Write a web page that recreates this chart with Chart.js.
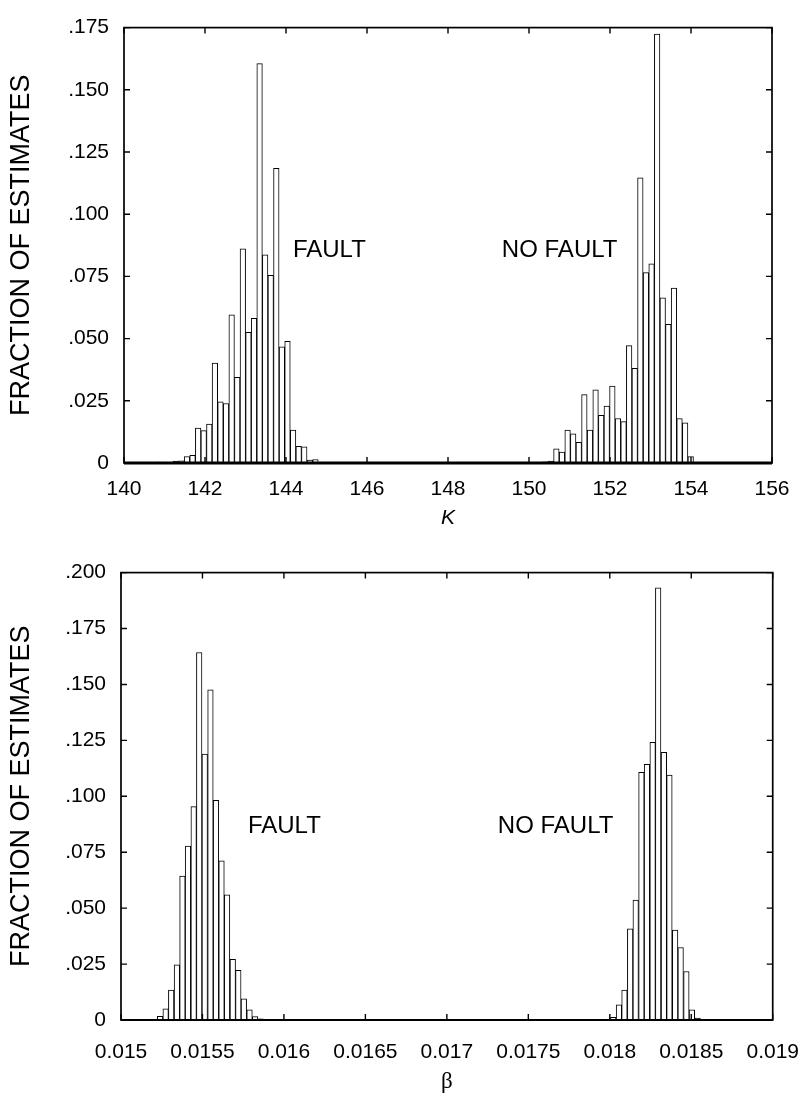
<!DOCTYPE html>
<html>
<head>
<meta charset="utf-8">
<script src="https://cdn.jsdelivr.net/npm/chart.js@4.4.0/dist/chart.umd.min.js"></script>
<style>
    html, body { margin:0; padding:0; background:#fff; }
    .box { position:absolute; left:0; width:800px; }
    #top { top:0; height:545px; }
    #bot { top:545px; height:552px; }
</style>
</head>
<body>
<div class="box" id="top"><canvas id="chartK"></canvas></div>
<div class="box" id="bot"><canvas id="chartB"></canvas></div>
<script>
// K histogram (bin centres and fraction of estimates)
var kFaultBins = [140.865, 141.279, 141.417, 141.555, 141.693, 141.831, 141.968, 142.106, 142.244, 142.382,
    142.520, 142.658, 142.796, 142.934, 143.072, 143.210, 143.348, 143.485, 143.623, 143.761,
    143.899, 144.037, 144.175, 144.313, 144.451, 144.589, 144.727];
var kFaultFrac = [0.0004, 0.0008, 0.0009, 0.0026, 0.0031, 0.0140, 0.0130, 0.0156, 0.0402, 0.0246,
    0.0239, 0.0596, 0.0344, 0.0861, 0.0525, 0.0581, 0.1605, 0.0837, 0.0754, 0.1184,
    0.0467, 0.0489, 0.0132, 0.0067, 0.0065, 0.0012, 0.0014];
var kNoFaultBins = [150.400, 150.538, 150.676, 150.815, 150.953, 151.091, 151.229, 151.367, 151.506, 151.644,
    151.782, 151.920, 152.058, 152.197, 152.335, 152.473, 152.611, 152.749, 152.888, 153.026,
    153.164, 153.302, 153.440, 153.579, 153.717, 153.855, 153.993];
var kNoFaultFrac = [0.0005, 0.0008, 0.0057, 0.0044, 0.0132, 0.0117, 0.0083, 0.0275, 0.0132, 0.0294,
    0.0192, 0.0229, 0.0309, 0.0179, 0.0166, 0.0472, 0.0381, 0.1146, 0.0765, 0.0801,
    0.1724, 0.0664, 0.0557, 0.0703, 0.0179, 0.0161, 0.0026];

// beta histogram
var bFaultBins = [0.015240, 0.015274, 0.015308, 0.015343, 0.015377, 0.015411, 0.015446, 0.015480, 0.015514, 0.015549,
    0.015583, 0.015617, 0.015651, 0.015686, 0.015720, 0.015754, 0.015789, 0.015823, 0.015857];
var bFaultFrac = [0.0016, 0.0050, 0.0134, 0.0247, 0.0643, 0.0777, 0.0954, 0.1643, 0.1189, 0.1476,
    0.0982, 0.0711, 0.0560, 0.0271, 0.0222, 0.0095, 0.0045, 0.0015, 0.0005];
var bNoFaultBins = [0.018021, 0.018056, 0.018090, 0.018125, 0.018159, 0.018194, 0.018228, 0.018263, 0.018297, 0.018332,
    0.018366, 0.018401, 0.018435, 0.018470, 0.018504, 0.018539, 0.018573];
var bNoFaultFrac = [0.0012, 0.0068, 0.0134, 0.0408, 0.0536, 0.1107, 0.1143, 0.1241, 0.1932, 0.1196,
    0.1095, 0.0402, 0.0324, 0.0217, 0.0045, 0.0009, 0.0003];

// tick labels
var kXLabels = ['140', '142', '144', '146', '148', '150', '152', '154', '156'];
var kYLabels = ['0', '.025', '.050', '.075', '.100', '.125', '.150', '.175'];
var bXLabels = ['0.015', '0.0155', '0.016', '0.0165', '0.017', '0.0175', '0.018', '0.0185', '0.019'];
var bYLabels = ['0', '.025', '.050', '.075', '.100', '.125', '.150', '.175', '.200'];

var FONT = '"Liberation Sans", Arial, sans-serif';

function pts(xs, ys) {
    var out = [];
    for (var i = 0; i < xs.length; i++) out.push({x: xs[i], y: ys[i]});
    return out;
}

function barSet(data) {
    return {
        data: data,
        backgroundColor: '#fff',
        borderColor: '#000',
        borderWidth: 1,
        barPercentage: 1,
        categoryPercentage: 1,
        grouped: false
    };
}

// frame, inward ticks on four sides, and the text notes
var framePlugin = {
    id: 'frame',
    afterDatasetsDraw: function(chart, args, opts) {
        var ctx = chart.ctx, a = chart.chartArea;
        var xs = chart.scales.x, ys = chart.scales.y;
        ctx.save();
        ctx.strokeStyle = '#000';
        ctx.lineWidth = 1.7;
        ctx.strokeRect(a.left, a.top, a.right - a.left, a.bottom - a.top);
        ctx.lineWidth = opts.base;
        ctx.beginPath();
        ctx.moveTo(a.left, a.bottom);
        ctx.lineTo(a.right, a.bottom);
        ctx.stroke();
        ctx.lineWidth = 1.4;
        ctx.beginPath();
        xs.ticks.forEach(function(t) {
            var px = xs.getPixelForValue(t.value);
            ctx.moveTo(px, a.top); ctx.lineTo(px, a.top + 6);
            ctx.moveTo(px, a.bottom); ctx.lineTo(px, a.bottom - 6);
        });
        ys.ticks.forEach(function(t) {
            var py = ys.getPixelForValue(t.value);
            ctx.moveTo(a.left, py); ctx.lineTo(a.left + 6, py);
            ctx.moveTo(a.right, py); ctx.lineTo(a.right - 6, py);
        });
        ctx.stroke();
        ctx.fillStyle = '#000';
        ctx.font = '24px ' + FONT;
        ctx.textBaseline = 'middle';
        ctx.textAlign = 'left';
        (opts.notes || []).forEach(function(n) {
            ctx.fillText(n.text, xs.getPixelForValue(n.x), ys.getPixelForValue(n.y));
        });
        ctx.restore();
    }
};

function makeChart(id, cfg) {
    var ctx = document.getElementById(id).getContext('2d');
    return new Chart(ctx, {
        type: 'bar',
        data: { datasets: cfg.sets.map(barSet) },
        options: {
            responsive: true,
            maintainAspectRatio: false,
            animation: false,
            layout: { padding: cfg.pad },
            plugins: {
                legend: { display: false },
                tooltip: { enabled: false },
                frame: { base: cfg.base, notes: cfg.notes }
            },
            scales: {
                x: {
                    type: 'linear',
                    min: cfg.xMin, max: cfg.xMax,
                    offset: false,
                    grid: { display: false, drawTicks: true, tickLength: cfg.xGap },
                    border: { display: false },
                    afterFit: function(s) { s.height = cfg.xH; },
                    ticks: {
                        stepSize: cfg.xStep,
                        padding: 1,
                        color: '#000',
                        font: { family: FONT, size: 21 },
                        maxRotation: 0,
                        autoSkip: false,
                        callback: function(v, i) { return cfg.xLabels[i]; }
                    },
                    title: {
                        display: true,
                        text: cfg.xTitle,
                        color: '#000',
                        font: cfg.xTitleFont,
                        padding: { top: 0, bottom: cfg.xTitlePad }
                    }
                },
                y: {
                    min: 0, max: cfg.yMax,
                    grid: { display: false, drawTicks: false },
                    border: { display: false },
                    afterFit: function(s) { s.width = cfg.yW; },
                    ticks: {
                        stepSize: 0.025,
                        padding: 15,
                        color: '#000',
                        font: { family: FONT, size: 21 },
                        autoSkip: false,
                        callback: function(v, i) { return cfg.yLabels[i]; }
                    },
                    title: {
                        display: true,
                        text: 'FRACTION OF ESTIMATES',
                        color: '#000',
                        font: { family: FONT, size: 27 },
                        padding: { top: 5, bottom: 0 }
                    }
                }
            }
        },
        plugins: [framePlugin]
    });
}

makeChart('chartK', {
    sets: [pts(kFaultBins, kFaultFrac), pts(kNoFaultBins, kNoFaultFrac)],
    pad: { left: 0, right: 28, top: 13, bottom: 0 },
    xMin: 140, xMax: 156, xStep: 2, xH: 82, xGap: 13, yW: 124, yMax: 0.175,
    xLabels: kXLabels, yLabels: kYLabels,
    xTitle: 'K', xTitleFont: { family: FONT, size: 21, style: 'italic' }, xTitlePad: 14,
    base: 2.8,
    notes: [{ text: 'FAULT', x: 144.17, y: 0.0853 }, { text: 'NO FAULT', x: 149.33, y: 0.0853 }]
});

makeChart('chartB', {
    sets: [pts(bFaultBins, bFaultFrac), pts(bNoFaultBins, bNoFaultFrac)],
    pad: { left: 0, right: 27, top: 27, bottom: 0 },
    xMin: 0.015, xMax: 0.019, xStep: 0.0005, xH: 77, xGap: 19, yW: 121, yMax: 0.2,
    xLabels: bXLabels, yLabels: bYLabels,
    xTitle: 'β', xTitleFont: { family: '"Liberation Serif", serif', size: 23 }, xTitlePad: 1,
    base: 2,
    notes: [{ text: 'FAULT', x: 0.015779, y: 0.0866 }, { text: 'NO FAULT', x: 0.017313, y: 0.0866 }]
});
</script>
</body>
</html>
